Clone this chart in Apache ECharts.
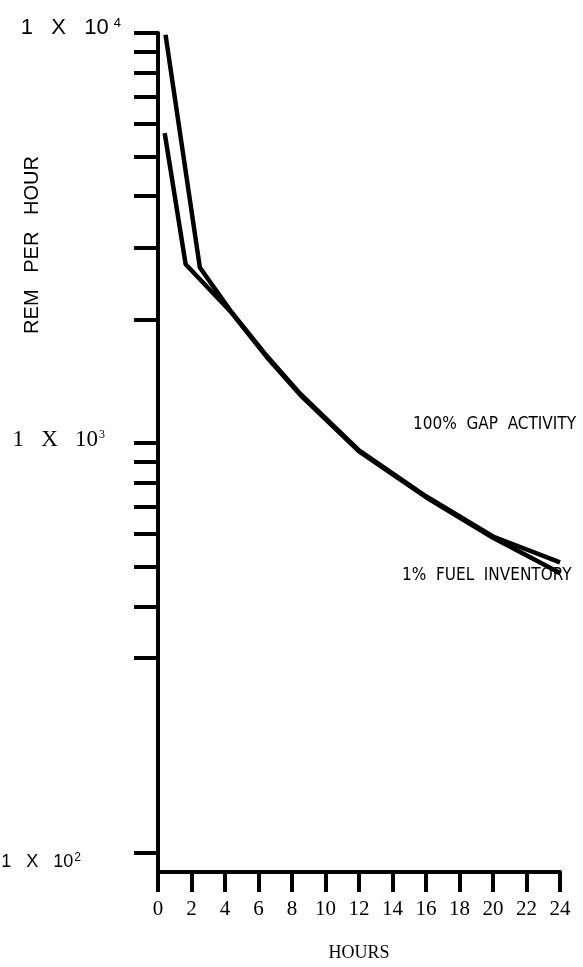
<!DOCTYPE html>
<html>
<head>
<meta charset="utf-8">
<script src="https://cdn.jsdelivr.net/npm/echarts@6/dist/echarts.min.js"></script>
<style>
html,body{margin:0;padding:0;background:#fff;}
#chart{width:583px;height:967px;}
</style>
</head>
<body>
<div id="chart"></div>
<script>
// Data
const gapHours  = [0.45, 2.5, 4.3, 6.5, 8.5, 12, 16, 20, 24];
const gapRem    = [9900, 2680, 2110, 1630, 1318, 960, 742, 592, 512];
const fuelHours = [0.4, 1.65, 4.3, 6.5, 8.5, 12, 16, 20, 24];
const fuelRem   = [5700, 2730, 2100, 1620, 1310, 955, 738, 588, 482];
const yTickValues  = [100, 300, 400, 500, 600, 700, 800, 900, 1000, 2000, 3000, 4000, 5000, 6000, 7000, 8000, 9000, 10000];
const yLabelValues = [100, 1000, 10000];
const xTickLabels  = [0, 2, 4, 6, 8, 10, 12, 14, 16, 18, 20, 22, 24];

const gapData  = gapHours.map((h, i) => [h, gapRem[i]]);
const fuelData = fuelHours.map((h, i) => [h, fuelRem[i]]);

const chart = echarts.init(document.getElementById('chart'));
const sans = 'Liberation Sans';
const serif = 'Liberation Serif';
const cond = 'DejaVu Sans Condensed';

chart.setOption({
  backgroundColor: '#fff',
  animation: false,
  grid: { left: 158, right: 23, top: 33, bottom: 95, containLabel: false, outerBoundsMode: 'none' },
  xAxis: {
    type: 'value',
    min: 0, max: 24, interval: 2,
    name: 'HOURS',
    nameLocation: 'middle',
    nameGap: 72,
    nameTextStyle: { fontFamily: serif, fontSize: 18, color: '#000' },
    axisLine: { onZero: false, lineStyle: { color: '#000', width: 4 } },
    axisTick: { length: 20, lineStyle: { color: '#000', width: 4 } },
    axisLabel: {
      margin: 27, color: '#000', fontFamily: serif, fontSize: 21,
      formatter: v => (xTickLabels.indexOf(v) >= 0 ? String(v) : '')
    },
    splitLine: { show: false }
  },
  yAxis: {
    type: 'log',
    logBase: 10,
    min: 90, max: 10000,
    axisLine: { lineStyle: { color: '#000', width: 4 } },
    axisTick: { customValues: yTickValues, length: 24, lineStyle: { color: '#000', width: 4 } },
    minorTick: { show: false },
    splitLine: { show: false },
    axisLabel: {
      customValues: yLabelValues,
      margin: 10,
      color: '#000',
      formatter: function (v) {
        const e = Math.round(Math.log10(v));
        if (e === 4) return '{a4|1   X   10}{s4|4}';
        if (e === 3) return '{a3|1   X   10}{s3|3}';
        return '{a2|1   X   10}{s2|2}';
      },
      rich: {
        a4: { fontFamily: sans, fontSize: 22, color: '#000', padding: [0, 0, 10, 0] },
        s4: { fontFamily: sans, fontSize: 13, color: '#000', verticalAlign: 'top', padding: [0, 27, 0, 5] },
        a3: { fontFamily: serif, fontSize: 23, color: '#000', padding: [0, 0, 6, 0] },
        s3: { fontFamily: serif, fontSize: 12, color: '#000', verticalAlign: 'top', padding: [0, 43, 0, 1] },
        a2: { fontFamily: sans, fontSize: 18, color: '#000', padding: [18, 0, 0, 0] },
        s2: { fontFamily: sans, fontSize: 12, color: '#000', verticalAlign: 'top', padding: [16, 67, 0, 1] }
      }
    }
  },
  series: [
    {
      name: '100% GAP ACTIVITY',
      type: 'line',
      data: gapData,
      showSymbol: false,
      lineStyle: { color: '#000', width: 4.5 },
      z: 3
    },
    {
      name: '1% FUEL INVENTORY',
      type: 'line',
      data: fuelData,
      showSymbol: false,
      lineStyle: { color: '#000', width: 4.5 },
      z: 3
    }
  ],
  graphic: [
    {
      type: 'text', x: 32, y: 245, rotation: Math.PI / 2,
      style: { text: 'REM   PER   HOUR', fontFamily: sans, fontSize: 20, fill: '#000', align: 'center', verticalAlign: 'middle' }
    },
    {
      type: 'text', x: 413, y: 425,
      style: { text: '100%  GAP  ACTIVITY', fontFamily: cond, fontSize: 17, fill: '#000', align: 'left', verticalAlign: 'middle' }
    },
    {
      type: 'text', x: 402, y: 576,
      style: { text: '1%  FUEL  INVENTORY', fontFamily: cond, fontSize: 17, fill: '#000', align: 'left', verticalAlign: 'middle' }
    }
  ]
});
</script>
</body>
</html>
